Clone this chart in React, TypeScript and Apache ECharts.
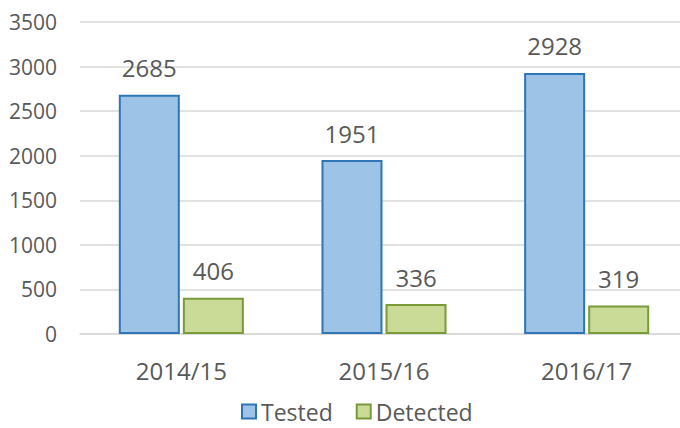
import React, { useEffect, useRef } from "react";
import * as echarts from "echarts";

const categories = ["2014/15", "2015/16", "2016/17"];
const testedValues = [2685, 1951, 2928];
const detectedValues = [406, 336, 319];
const seriesNames = ["Tested", "Detected"];

const FONT = "'Open Sans', sans-serif";
const TXT = "#595959";

export default function App() {
  const ref = useRef<HTMLDivElement>(null);
  useEffect(() => {
    if (!ref.current) return;
    const chart = echarts.init(ref.current, undefined, { renderer: "svg" });
    const labelCfg = {
      show: true,
      position: "top",
      distance: 15,
      color: TXT,
      fontFamily: FONT,
      fontSize: 24,
    };
    chart.setOption({
      animation: false,
      grid: { left: 80, right: 2, top: 22, bottom: 94 },
      legend: {
        data: seriesNames,
        left: 241,
        top: 400,
        padding: 0,
        icon: "rect",
        itemWidth: 14,
        itemHeight: 14,
        itemGap: 23,
        textStyle: { color: TXT, fontFamily: FONT, fontSize: 23 },
      },
      xAxis: {
        type: "category",
        data: categories,
        axisLine: { show: true, lineStyle: { color: "#d9d9d9", width: 1.5 } },
        axisTick: { show: false },
        axisLabel: { color: TXT, fontFamily: FONT, fontSize: 24, margin: 24 },
      },
      yAxis: {
        type: "value",
        min: 0,
        max: 3500,
        interval: 500,
        axisLine: { show: false },
        axisTick: { show: false },
        splitLine: { lineStyle: { color: "#d9d9d9", width: 1.5 } },
        axisLabel: {
          color: TXT,
          fontFamily: FONT,
          fontSize: 21,
          margin: 23,
          formatter: (v: number) => String(v),
        },
      },
      series: [
        {
          name: seriesNames[0],
          type: "bar",
          data: testedValues,
          barWidth: 61,
          barGap: "5%",
          itemStyle: { color: "#9DC3E6", borderColor: "#2E75B6", borderWidth: 2 },
          label: labelCfg,
        },
        {
          name: seriesNames[1],
          type: "bar",
          data: detectedValues,
          barWidth: 61,
          barGap: "5%",
          itemStyle: { color: "#C9DB96", borderColor: "#7A9A3A", borderWidth: 2 },
          label: labelCfg,
        },
      ],
    });
    return () => chart.dispose();
  }, []);
  return (
    <div style={{ width: 680, height: 428, position: "absolute", left: 0, top: 0, overflow: "hidden" }}>
      <div ref={ref} style={{ width: 690, height: 428 }} />
    </div>
  );
}
